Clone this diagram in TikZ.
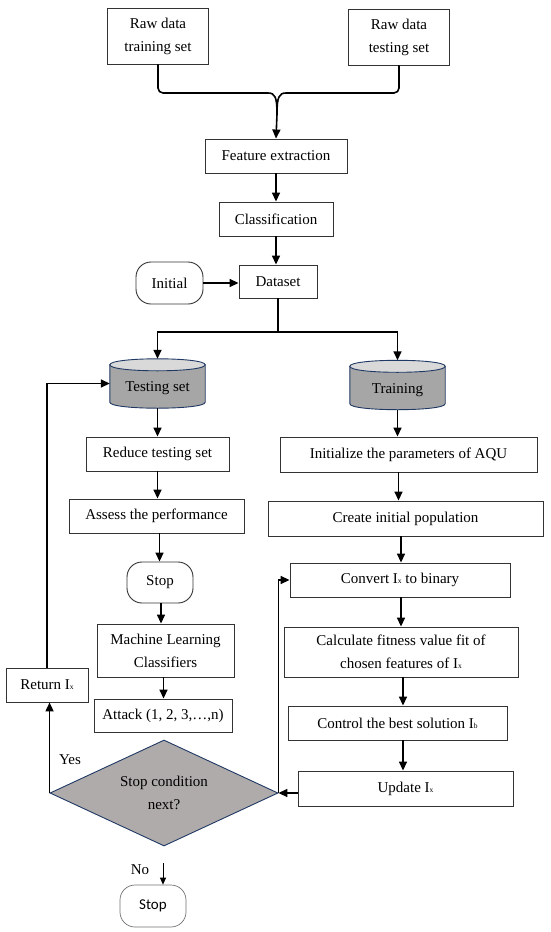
\documentclass[tikz,border=0pt]{standalone}
\usepackage{fontspec}
\setmainfont{Liberation Serif}
\newfontfamily\stopsans{Carlito}
\usetikzlibrary{arrows.meta,calc,shapes.geometric}
\definecolor{navy}{RGB}{31,56,100}
\definecolor{cylgray}{RGB}{166,166,166}
\definecolor{cyltop}{RGB}{217,217,217}
\definecolor{diagray}{RGB}{175,171,171}
\newcommand{\sbx}[1]{{\fontsize{7.5}{7.5}\selectfont #1}}
\begin{document}
\begin{tikzpicture}[x=1pt,y=-1pt,
  font=\fontsize{15}{23}\selectfont,
  box/.style={draw=black!80, line width=0.9pt, fill=white, align=center, inner sep=0pt},
  term/.style={box, rounded corners=15pt},
  conn/.style={line width=1.6pt},
  arr/.style={conn, -{Triangle[length=9pt,width=8pt]}},
  cylnode/.style={inner sep=0pt, minimum width=95pt, minimum height=49pt},
  cylbody/.style={draw=navy, line width=0.9pt, fill=cylgray},
  cylcap/.style={draw=navy, line width=0.9pt, fill=cyltop}
]
\useasboundingbox (0,0) rectangle (550,932);

% top
\node[box, minimum width=101pt, minimum height=56pt] (trn) at (158,36) {Raw data\\training set};
\node[box, minimum width=101pt, minimum height=56pt] (tst) at (399,37) {Raw data\\testing set};
\node[box, minimum width=142pt, minimum height=34pt] (feat) at (276,156) {Feature extraction};
\node[box, minimum width=114pt, minimum height=34pt] (cls) at (276,219) {Classification};
\node[box, minimum width=78pt, minimum height=33pt] (data) at (278,281.5) {Dataset};
\node[term, minimum width=67pt, minimum height=42pt] (init) at (169.5,283) {Initial};

\coordinate (mrg) at (277,114);
\coordinate (mrgL) at (268,93);
\coordinate (mrgR) at (286,93);
\draw[conn, rounded corners=5pt] (trn.south) |- (mrgL);
\draw[conn] (mrgL) .. controls (275,93) and (277,97) .. (mrg);
\draw[conn, rounded corners=5pt] (tst.south) |- (mrgR);
\draw[conn] (mrgR) .. controls (279,93) and (277,97) .. (mrg);
\draw[arr] (mrg) -- (feat.north);
\draw[arr] (feat.south) -- (feat.south |- cls.north);
\draw[arr] (cls.south) -- (cls.south |- data.north);
\draw[arr] (init.east) -- (init.east -| data.west);

% cylinders
\node[cylnode] (tcyl) at (157.5,383.5) {};
\node[cylnode] (rcyl) at (397.5,385) {};
\foreach \c in {tcyl,rcyl}{
  \draw[cylbody] ($(\c.north west)+(0,6)$) -- ($(\c.south west)+(0,-6)$)
     .. controls +(0,8) and +(0,8) .. ($(\c.south east)+(0,-6)$)
     -- ($(\c.north east)+(0,6)$) -- cycle;
  \draw[cylcap] ($(\c.north west)+(0,6)$) .. controls +(0,-8) and +(0,-8) .. ($(\c.north east)+(0,6)$)
     .. controls +(0,8) and +(0,8) .. ($(\c.north west)+(0,6)$) -- cycle;
}
\node (tcyltext) at ([yshift=-5pt]tcyl.center) {Testing set};
\node (rcyltext) at ([yshift=-5pt]rcyl.center) {Training};

\coordinate (split) at (278,332);
\draw[conn] (data.south) -- (split);
\draw[arr] (split) -| (tcyl.north);
\draw[arr] (split) -| (rcyl.north);

% left column
\node[box, minimum width=143pt, minimum height=34pt] (red) at (157.5,454) {Reduce testing set};
\node[box, minimum width=175pt, minimum height=34pt] (ass) at (156.5,516) {Assess the performance};
\node[term, minimum width=66pt, minimum height=41pt] (stop1) at (160,582.5) {Stop};
\node[box, minimum width=137pt, minimum height=53pt] (ml) at (165.5,650.5) {Machine Learning\\Classifiers};
\node[box, minimum width=138pt, minimum height=33pt] (att) at (163,715.5) {Attack (1, 2, 3,\ldots,n)};
\node[box, minimum width=82pt, minimum height=34pt] (ret) at (47,685) {Return I\sbx{x}};
\node[diamond, draw=navy, fill=diagray, line width=0.9pt, minimum width=228pt, minimum height=106pt,
      inner sep=0pt, aspect=2.15, align=center] (dia) at (164,793) {Stop condition\\next?};
\node[term, draw=black!55, line width=0.7pt, font=\stopsans\fontsize{15}{16}\selectfont,
      minimum width=66pt, minimum height=42pt] (stop2) at (153,906) {Stop};
\node (yes) at (70,760) {Yes};
\node (no) at (140,870) {No};

\draw[arr] (tcyl.south) -- (tcyl.south |- red.north);
\draw[arr] (red.south) -- (red.south |- ass.north);
\draw[arr] ([xshift=3pt]ass.south) -- ([xshift=3pt]ass.south |- stop1.north);
\draw[arr] ([xshift=1pt]stop1.south) -- ([xshift=1pt]stop1.south |- ml.north);
\draw[arr] ([xshift=-2pt]ml.south) -- ([xshift=-2pt]ml.south |- att.north);
\draw[arr] (ret.north) |- (tcyl.west);
\draw[arr] (dia.west) -- (dia.west |- ret.south);
\coordinate (nostart) at (163,863);
\draw[line width=0.9pt, -{Triangle[length=7pt,width=6pt]}] (nostart) -- (nostart |- stop2.north);

% right column
\node[box, minimum width=257pt, minimum height=35pt] (ini) at (408.5,454.5) {Initialize the parameters of AQU};
\node[box, minimum width=275pt, minimum height=35pt] (crt) at (405.5,518.5) {Create initial population};
\node[box, minimum width=220pt, minimum height=34pt] (conv) at (400,580) {Convert I\sbx{x} to binary};
\node[box, minimum width=234pt, minimum height=50pt] (calc) at (401,652) {Calculate fitness value fit of\\chosen features of I\sbx{x}};
\node[box, minimum width=219pt, minimum height=34pt] (ctrl) at (397.5,723) {Control the best solution I\sbx{b}};
\node[box, minimum width=215pt, minimum height=35pt] (upd) at (405.5,788.5) {Update I\sbx{x}};

\draw[arr] (rcyl.south) -- (rcyl.south |- ini.north);
\draw[arr] ([xshift=-10pt]ini.south) -- ([xshift=-10pt]ini.south |- crt.north);
\draw[arr] ([xshift=-4.5pt]crt.south) -- ([xshift=-4.5pt]crt.south |- conv.north);
\draw[arr] ([xshift=1pt]conv.south) -- ([xshift=1pt]conv.south |- calc.north);
\draw[arr] ([xshift=2pt]calc.south) -- ([xshift=2pt]calc.south |- ctrl.north);
\draw[arr] ([xshift=5.5pt]ctrl.south) -- ([xshift=5.5pt]ctrl.south |- upd.north);
\draw[arr] (upd.west |- dia.east) -- (dia.east);
\draw[arr] (dia.east) |- (conv.west);
\end{tikzpicture}
\end{document}
